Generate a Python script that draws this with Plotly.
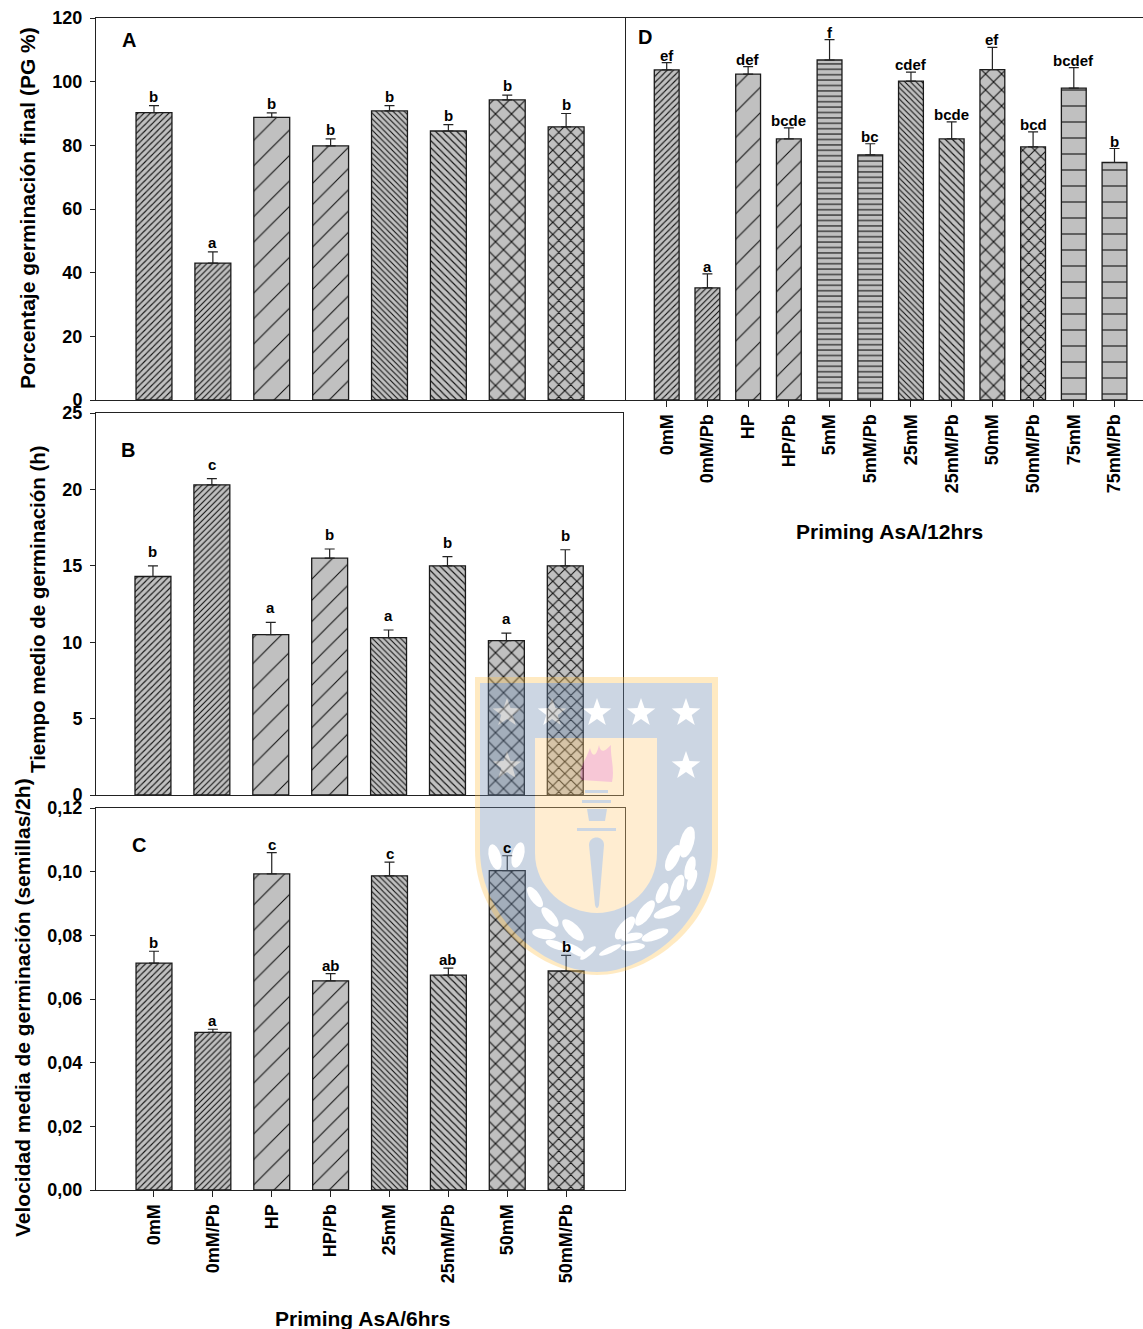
import plotly.graph_objects as go
import base64, math

W, H = 1143, 1329
FONT = "Liberation Sans"

# ---------- data ----------
cats_6h = ["0mM", "0mM/Pb", "HP", "HP/Pb", "25mM", "25mM/Pb", "50mM", "50mM/Pb"]
cats_12h = ["0mM", "0mM/Pb", "HP", "HP/Pb", "5mM", "5mM/Pb", "25mM", "25mM/Pb",
            "50mM", "50mM/Pb", "75mM", "75mM/Pb"]

a_values = [90.3, 43.0, 88.8, 79.8, 90.8, 84.5, 94.3, 85.8]
a_upper = [92.5, 46.5, 90.2, 82.0, 92.5, 86.5, 95.8, 90.0]
a_letters = ["b", "a", "b", "b", "b", "b", "b", "b"]

b_values = [14.3, 20.3, 10.5, 15.5, 10.3, 15.0, 10.1, 15.0]
b_upper = [15.0, 20.7, 11.3, 16.1, 10.8, 15.6, 10.6, 16.05]
b_letters = ["b", "c", "a", "b", "a", "b", "a", "b"]

c_values = [0.0713, 0.0495, 0.0993, 0.0657, 0.0987, 0.0675, 0.1003, 0.0688]
c_upper = [0.0750, 0.0505, 0.1060, 0.0680, 0.1030, 0.0697, 0.1050, 0.0737]
c_letters = ["b", "a", "c", "ab", "c", "ab", "c", "b"]

d_values = [103.7, 35.2, 102.4, 82.0, 106.8, 77.0, 100.2, 82.0, 103.8, 79.5, 98.0, 74.6]
d_upper = [106.0, 39.6, 104.7, 85.5, 113.2, 80.5, 103.0, 87.4, 110.8, 84.2, 104.4, 79.0]
d_letters = ["ef", "a", "def", "bcde", "f", "bc", "cdef", "bcde", "ef", "bcd", "bcdef", "b"]

ticks_100 = [0, 20, 40, 60, 80, 100, 120]
ticks_25 = [0, 5, 10, 15, 20, 25]
ticks_c = [0, 0.02, 0.04, 0.06, 0.08, 0.10, 0.12]
ticks_c_text = ["0,00", "0,02", "0,04", "0,06", "0,08", "0,10", "0,12"]

# pattern (shape, tile size) per bar
pat_6h = [("/", 4.4), ("/", 4.2), ("/", 18), ("/", 15), ("\\", 4.0), ("\\", 5.0), ("x", 11.3), ("x", 8.5)]
pat_12h = [("/", 4.4), ("/", 4.2), ("/", 18), ("/", 15), ("-", 5.4), ("-", 5.4),
           ("\\", 4.0), ("\\", 5.0), ("x", 11.3), ("x", 8.5), ("-", 16), ("-", 16)]

# ---------- panels (pixel boxes: x0, x1, y0(top), y1(bottom)) ----------
panels = [
    dict(box=(96, 625, 18, 400), x0=-0.985, x1=8.0, cats=cats_6h, v=a_values, u=a_upper, l=a_letters,
         pat=pat_6h, yr=(0, 120), tv=ticks_100, tt=[str(t) for t in ticks_100], lbl=False, shift=-1, yt=True),
    dict(box=(96, 623, 413, 795), x0=-0.967, x1=7.98, cats=cats_6h, v=b_values, u=b_upper, l=b_letters,
         pat=pat_6h, yr=(0, 25), tv=ticks_25, tt=[str(t) for t in ticks_25], lbl=False, shift=4, yt=True),
    dict(box=(96, 625, 808, 1190), x0=-0.985, x1=8.0, cats=cats_6h, v=c_values, u=c_upper, l=c_letters,
         pat=pat_6h, yr=(0, 0.12), tv=ticks_c, tt=ticks_c_text, lbl=True, shift=-2, yt=True),
    dict(box=(626, 1143, 18, 400), x0=-1.0, x1=11.7, cats=cats_12h, v=d_values, u=d_upper, l=d_letters,
         pat=pat_12h, yr=(0, 120), tv=ticks_100, tt=[""] * 7, lbl=True, shift=-3, yt=False),
]


def solidity(shape, size, lw=1.1):
    if shape == "x":
        return 1 - (1 - lw / size) ** 2
    return lw / size


fig = go.Figure()
annotations = []
AX = "#222222"
for i, p in enumerate(panels):
    n = "" if i == 0 else str(i + 1)
    x0, x1, y0, y1 = p["box"]
    xa, ya = f"x{n}", f"y{n}"
    shapes_ = [s for s, _ in p["pat"]]
    sizes = [z for _, z in p["pat"]]
    solid = [solidity(s, z) for s, z in p["pat"]]
    fig.add_trace(go.Bar(
        x=p["cats"], y=p["v"], xaxis=xa, yaxis=ya, width=0.61, showlegend=False,
        marker=dict(color="#c0c0c0", line=dict(color="#1a1a1a", width=1.3),
                    pattern=dict(shape=shapes_, size=sizes, solidity=solid,
                                 fgcolor="#111111", bgcolor="#c0c0c0", fillmode="replace")),
        error_y=dict(type="data", symmetric=False,
                     array=[u - v for u, v in zip(p["u"], p["v"])],
                     arrayminus=[0] * len(p["v"]), color="#222222", thickness=1.2, width=5),
    ))
    fig.update_layout({
        f"xaxis{n}": dict(domain=[x0 / W, min(x1 / W, 1)], anchor=ya, type="category",
                          automargin=False,
                          categoryorder="array", categoryarray=p["cats"],
                          range=[p["x0"], p["x1"]], showgrid=False, zeroline=False,
                          showline=True, linecolor=AX, linewidth=1, mirror=True,
                          ticks="outside" if p["lbl"] else "", ticklen=6, tickcolor=AX,
                          showticklabels=p["lbl"], tickangle=-90,
                          tickfont=dict(family=FONT, size=18, color="black", weight="bold")),
        f"yaxis{n}": dict(domain=[1 - y1 / H, 1 - y0 / H], anchor=xa, range=list(p["yr"]),
                          automargin=False,
                          tickmode="array", tickvals=p["tv"], ticktext=p["tt"],
                          showgrid=False, zeroline=False, showline=True, linecolor=AX, linewidth=1,
                          mirror=i != 3, ticks="outside" if p["yt"] else "", ticklen=5, tickcolor=AX,
                          ticklabelstandoff=4,
                          showticklabels=p["yt"],
                          tickfont=dict(family=FONT, size=18, color="black", weight="bold")),
    })
    for c, u, t in zip(p["cats"], p["u"], p["l"]):
        annotations.append(dict(x=c, y=u, xref=xa, yref=ya, text=t, showarrow=False,
                                yanchor="bottom", yshift=p["shift"],
                                font=dict(family=FONT, size=15, color="black", weight="bold")))


def label(px, py, text, size, angle=0):
    annotations.append(dict(x=px / W, y=1 - py / H, xref="paper", yref="paper", text=text,
                            showarrow=False, textangle=angle, xanchor="center", yanchor="middle",
                            font=dict(family=FONT, size=size, color="black", weight="bold")))


label(129, 40, "A", 20)
label(128, 450, "B", 20)
label(139, 845, "C", 20)
label(645, 37, "D", 20)
label(27, 208, "Porcentaje germinación final (PG %)", 21, -90)
label(37, 609, "Tiempo medio de germinación (h)", 20.5, -90)
label(22, 1008, "Velocidad media de germinación (semillas/2h)", 21, -90)
label(362, 1318, "Priming AsA/6hrs", 21)
label(889, 531, "Priming AsA/12hrs", 21)


# ---------- watermark (crest behind the scan) ----------
def star(cx, cy, r):
    pts = []
    for k in range(10):
        rr = r if k % 2 == 0 else r * 0.4
        ang = -math.pi / 2 + k * math.pi / 5
        pts.append(f"{cx + rr * math.cos(ang):.1f},{cy + rr * math.sin(ang):.1f}")
    return f'<polygon points="{" ".join(pts)}" fill="#fff"/>'


def leaf(cx, cy, rx, ry, rot):
    return f'<ellipse cx="{cx}" cy="{cy}" rx="{rx}" ry="{ry}" transform="rotate({rot} {cx} {cy})" fill="#fff"/>'


star_xy = [(507, 713), (552, 713), (597, 713), (641, 713), (686, 713), (507, 766), (686, 766)]
leaves = [(495, 857, 6, 13, -15), (518, 855, 6, 13, 15), (535, 897, 5, 12, -35), (550, 917, 5, 12, -40),
          (573, 930, 6, 14, -45), (544, 934, 12, 5, 10), (556, 945, 11, 4, 20), (575, 950, 12, 4, 30),
          (588, 953, 10, 3, -40), (687, 842, 7, 16, 15), (673, 858, 6, 14, 25), (690, 868, 5, 12, 15),
          (677, 888, 6, 14, 20), (662, 893, 5, 11, 25), (692, 880, 4, 11, 20), (645, 913, 6, 15, 35),
          (667, 912, 14, 5, -20), (655, 935, 14, 5, -20), (625, 928, 6, 14, 40), (632, 937, 11, 4, -10),
          (633, 947, 12, 4, -5), (610, 950, 12, 3, -25)]
svg = ['<svg xmlns="http://www.w3.org/2000/svg" viewBox="475 677 243 298" width="243" height="298">']
svg.append('<path d="M475 677H718V850C718 925 650 975 597 975C544 975 475 925 475 850Z" fill="rgb(255,198,84)"/>')
svg.append('<path d="M480 683H712V850C712 920 648 972 597 972C546 972 480 920 480 850Z" fill="rgb(112,141,178)"/>')
svg.append('<path d="M535 738H657V853C657 888 628 913 597 913C566 913 535 888 535 853Z" fill="rgb(255,206,126)"/>')
svg.append('<path d="M581 780C578 768 586 760 590 748C592 757 596 758 599 745C601 755 606 750 611 745C610 755 615 770 612 782Z" fill="rgb(235,98,141)"/>')
blue = 'fill="rgb(112,141,178)"'
svg.append(f'<rect x="585" y="790" width="23" height="3" {blue}/><rect x="582" y="800" width="29" height="3" {blue}/>')
svg.append(f'<polygon points="587,809 607,809 605,821 589,821" {blue}/><rect x="577" y="828" width="39" height="3" {blue}/>')
svg.append(f'<path d="M589 845C589 835 604 835 604 845L599 905C598 909 596 909 595 905Z" {blue}/>')
svg += [star(x, y, 15) for x, y in star_xy]
svg += [leaf(*l) for l in leaves]
svg.append("</svg>")
uri = "data:image/svg+xml;base64," + base64.b64encode("".join(svg).encode()).decode()

fig.update_layout(
    width=W, height=H, autosize=False, margin=dict(l=0, r=0, t=0, b=0),
    paper_bgcolor="white", plot_bgcolor="white", showlegend=False, bargap=0.39,
    annotations=annotations,
    images=[dict(source=uri, xref="paper", yref="paper", x=475 / W, y=1 - 677 / H,
                 sizex=243 / W, sizey=298 / H, xanchor="left", yanchor="top",
                 sizing="stretch", opacity=0.35, layer="above")],
)
fig.write_html("out.html", config={"displayModeBar": False},
               post_script="document.body.style.margin='0';")
